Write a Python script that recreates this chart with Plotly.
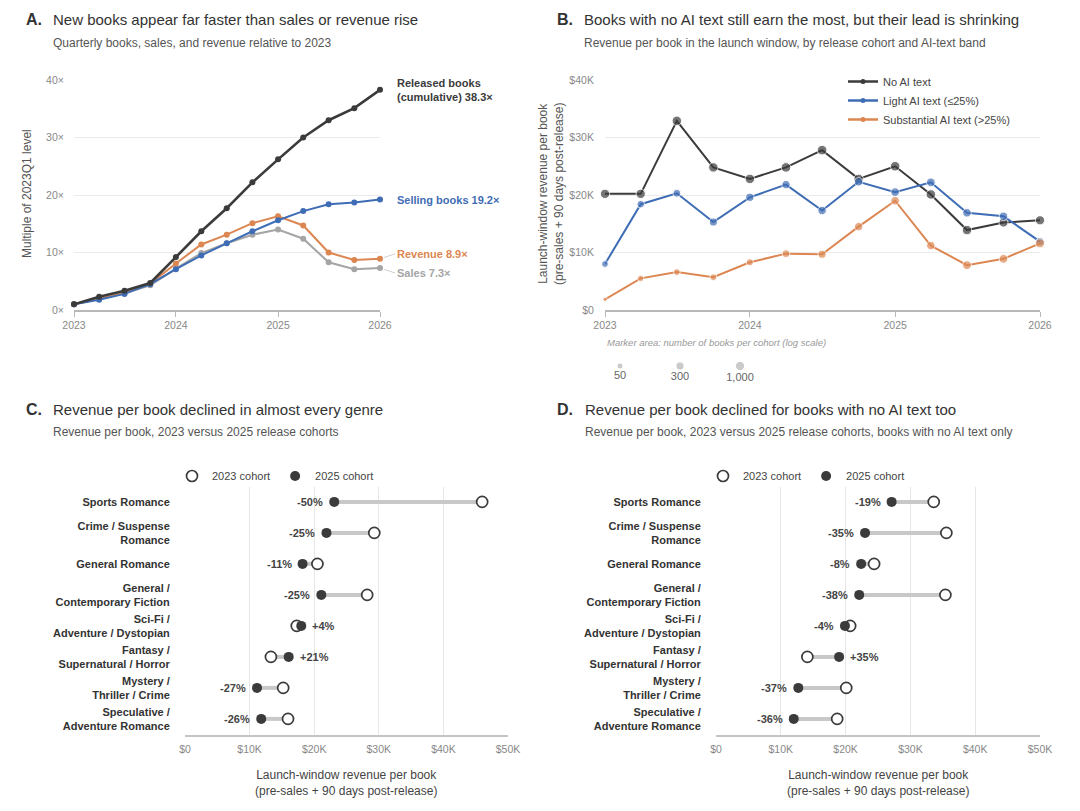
import math

import plotly.graph_objects as go


W, H = 1080, 811
PAGE_OFFSET = 8  # the page body margin shifts the figure by this many px
FONT = "Liberation Sans, Arial, sans-serif"

DARK = "#3b3b3b"
BLUE = "#3f6db5"
ORANGE = "#dc8752"
GREY = "#a5a5a5"
GRID = "#ebebeb"
AXIS = "#b8b8b8"


# Data

quarters = ["2023-01-01", "2023-04-01", "2023-07-01", "2023-10-01",
            "2024-01-01", "2024-04-01", "2024-07-01", "2024-10-01",
            "2025-01-01", "2025-04-01", "2025-07-01", "2025-10-01",
            "2026-01-01"]
years = ["2023-01-01", "2024-01-01", "2025-01-01", "2026-01-01"]
year_labels = ["2023", "2024", "2025", "2026"]

# A: multiple of the 2023Q1 level
released_books = [1.0, 2.3, 3.35, 4.7, 9.2, 13.7, 17.7, 22.2, 26.2, 30.0, 33.0, 35.1, 38.3]
selling_books = [1.0, 1.8, 2.8, 4.5, 7.1, 9.5, 11.6, 13.7, 15.6, 17.2, 18.4, 18.7, 19.2]
revenue_mult = [1.0, 1.9, 3.0, 4.6, 8.1, 11.4, 13.1, 15.1, 16.3, 14.7, 10.0, 8.7, 8.9]
sales_mult = [1.0, 1.9, 2.9, 4.3, 7.2, 9.9, 11.6, 13.1, 14.0, 12.4, 8.3, 7.1, 7.3]
mult_ticks = [0, 10, 20, 30, 40]

# B: launch-window revenue per book, and books per cohort
rev_no_ai = [20200, 20200, 32900, 24800, 22800, 24800, 27800, 22800, 25000, 20100, 13900, 15200, 15600]
rev_light_ai = [8000, 18400, 20300, 15300, 19600, 21800, 17300, 22300, 20500, 22200, 16900, 16300, 11900]
rev_subst_ai = [1850, 5500, 6600, 5700, 8300, 9800, 9700, 14500, 19000, 11200, 7800, 8900, 11600]
n_no_ai = [1100, 1100, 1300, 1300, 1400, 1500, 1600, 1300, 1500, 1400, 1300, 800, 1000]
n_light_ai = [90, 180, 250, 300, 350, 400, 450, 500, 500, 550, 500, 450, 400]
n_subst_ai = [18, 60, 90, 90, 120, 250, 300, 400, 500, 450, 600, 550, 900]
size_legend_n = [50, 300, 1000]
rev_ticks = [0, 10000, 20000, 30000, 40000]

# C and D: revenue per book by genre, 2023 vs 2025 cohorts
genres = ["Sports Romance", "Crime / Suspense<br>Romance", "General Romance",
          "General /<br>Contemporary Fiction", "Sci-Fi /<br>Adventure / Dystopian",
          "Fantasy /<br>Supernatural / Horror", "Mystery /<br>Thriller / Crime",
          "Speculative /<br>Adventure Romance"]
genre_rev_2023 = [46000, 29300, 20500, 28200, 17300, 13300, 15200, 15950]
genre_rev_2025 = [23100, 21900, 18200, 21100, 18000, 16050, 11150, 11800]
noai_rev_2023 = [33600, 35550, 24400, 35400, 20700, 14100, 20100, 18700]
noai_rev_2025 = [27100, 23000, 22400, 22100, 19900, 19000, 12700, 12000]
money_ticks = [0, 10000, 20000, 30000, 40000, 50000]


# Helpers (positions below are in screen px, converted to paper fractions)

def px(x):
    return (x - PAGE_OFFSET) / W

def py(y):
    return 1 - (y - PAGE_OFFSET) / H

def marker_px(n):
    # marker area grows with log10 of the cohort size
    return math.sqrt(max(37.7 * math.log10(n) - 28.0, 9))

def money(v):
    return "$0" if v == 0 else "${}K".format(v // 1000)


fig = go.Figure()
annotations = []


def note(text, x, y, size, color, xanchor="left", angle=0):
    annotations.append(dict(text=text, x=px(x), y=py(y), xref="paper", yref="paper",
                            xanchor=xanchor, yanchor="middle", showarrow=False, textangle=angle,
                            font=dict(size=size, color=color)))


def title_block(letter, lx, tx, y, title, subtitle):
    note("<b>{}</b>".format(letter), lx, y, 16, "#333")
    note(title, tx, y, 15, "#333")
    note(subtitle, tx, y + 23, 12, "#555")


# Panel A

series_a = [
    ("Sales", sales_mult, GREY, 2),
    ("Revenue", revenue_mult, ORANGE, 2),
    ("Selling books", selling_books, BLUE, 2),
    ("Released books", released_books, DARK, 2.6),
]
for name, vals, color, width in series_a:
    fig.add_trace(go.Scatter(x=quarters, y=vals, mode="lines+markers", name=name,
                             line=dict(color=color, width=width),
                             marker=dict(size=6, color=color),
                             xaxis="x", yaxis="y", showlegend=False, cliponaxis=False))

end_labels = [
    ("Released books<br>(cumulative) {:.1f}×".format(released_books[-1]), released_books[-1], DARK, 0),
    ("Selling books {:.1f}×".format(selling_books[-1]), selling_books[-1], BLUE, 0),
    ("Revenue {:.1f}×".format(revenue_mult[-1]), revenue_mult[-1], ORANGE, -5),
    ("Sales {:.1f}×".format(sales_mult[-1]), sales_mult[-1], GREY, 5),
]
for text, val, color, dy in end_labels:
    if dy == 0:
        annotations.append(dict(text="<b>{}</b>".format(text), x=quarters[-1], y=val, xref="x", yref="y",
                                xanchor="left", yanchor="middle", align="left", xshift=15,
                                showarrow=False, font=dict(size=11, color=color)))
    else:
        annotations.append(dict(text="<b>{}</b>".format(text), x=quarters[-1], y=val, xref="x", yref="y",
                                ax=15, ay=dy, xanchor="left", yanchor="middle", align="left",
                                showarrow=True, arrowhead=0, arrowwidth=0.8, arrowcolor="#c4c4c4",
                                standoff=4, font=dict(size=11, color=color)))


# Panel B

series_b = [
    ("No AI text", rev_no_ai, n_no_ai, DARK),
    ("Light AI text (≤25%)", rev_light_ai, n_light_ai, BLUE),
    ("Substantial AI text (>25%)", rev_subst_ai, n_subst_ai, ORANGE),
]
for name, vals, counts, color in series_b:
    fig.add_trace(go.Scatter(x=quarters, y=vals, mode="lines+markers", name=name,
                             line=dict(color=color, width=2),
                             marker=dict(size=[marker_px(n) for n in counts], color=color),
                             xaxis="x2", yaxis="y2", showlegend=False, cliponaxis=False))
for name, vals, counts, color in series_b:
    # legend-only entries with a small fixed marker
    fig.add_trace(go.Scatter(x=[None], y=[None], mode="lines+markers", name=name,
                             line=dict(color=color, width=2.5), marker=dict(size=5, color=color),
                             xaxis="x2", yaxis="y2", legend="legend"))

fig.add_trace(go.Scatter(x=list(range(len(size_legend_n))), y=[0] * len(size_legend_n),
                         mode="markers+text", text=["{:,}".format(n) for n in size_legend_n],
                         textposition="bottom center", textfont=dict(size=11, color="#666"),
                         marker=dict(size=[marker_px(n) for n in size_legend_n], color="#b5b5b5"),
                         xaxis="x5", yaxis="y5", showlegend=False, cliponaxis=False))
note("<i>Marker area: number of books per cohort (log scale)</i>", 605, 343, 9.5, "#999")


# Panels C and D

rows = list(range(len(genres)))


def dumbbell(v23, v25, xa, ya, legend):
    seg_x, seg_y = [], []
    for i, (a, b) in enumerate(zip(v23, v25)):
        seg_x += [a, b, None]
        seg_y += [i, i, None]
    fig.add_trace(go.Scatter(x=seg_x, y=seg_y, mode="lines", line=dict(color="#c8c8c8", width=4),
                             xaxis=xa, yaxis=ya, showlegend=False, hoverinfo="skip"))
    fig.add_trace(go.Scatter(x=v23, y=rows, mode="markers", name="2023 cohort",
                             marker=dict(size=11, color="white", line=dict(color=DARK, width=1.7)),
                             xaxis=xa, yaxis=ya, legend=legend, cliponaxis=False))
    fig.add_trace(go.Scatter(x=v25, y=rows, mode="markers", name="2025 cohort",
                             marker=dict(size=10, color=DARK),
                             xaxis=xa, yaxis=ya, legend=legend, cliponaxis=False))
    for i, (a, b) in enumerate(zip(v23, v25)):
        pct = (b / a - 1) * 100
        if b < a:
            anchor, shift = "right", -9
        else:
            anchor, shift = "left", 9
        annotations.append(dict(text="<b>{:+.0f}%</b>".format(pct), x=b, y=i,
                                xref=xa, yref=ya, xanchor=anchor, yanchor="middle", xshift=shift,
                                showarrow=False, font=dict(size=11, color="#444")))


dumbbell(genre_rev_2023, genre_rev_2025, "x3", "y3", "legend2")
dumbbell(noai_rev_2023, noai_rev_2025, "x4", "y4", "legend3")


# Titles

title_block("A.", 24, 51, 20, "New books appear far faster than sales or revenue rise",
            "Quarterly books, sales, and revenue relative to 2023")
title_block("B.", 555, 582, 20, "Books with no AI text still earn the most, but their lead is shrinking",
            "Revenue per book in the launch window, by release cohort and AI-text band")
title_block("C.", 24, 51, 409, "Revenue per book declined in almost every genre",
            "Revenue per book, 2023 versus 2025 release cohorts")
title_block("D.", 555, 583, 409, "Revenue per book declined for books with no AI text too",
            "Revenue per book, 2023 versus 2025 release cohorts, books with no AI text only")

rev_title = "Launch-window revenue per book<br>(pre-sales + 90 days post-release)"
note("Multiple of 2023Q1 level", 27, 194, 12, "#555", xanchor="center", angle=-90)
note(rev_title, 551, 194, 12, "#555", xanchor="center", angle=-90)
note(rev_title, 346, 783, 12, "#444", xanchor="center")
note(rev_title, 878, 783, 12, "#444", xanchor="center")


# Layout

tick_font = dict(size=10.5, color="#888888")
no_tick = "rgba(0,0,0,0)"

time_x = dict(type="date", range=[quarters[0], quarters[-1]], tickvals=years, ticktext=year_labels,
              showgrid=False, zeroline=False, showline=True, linecolor=AXIS, linewidth=1.5,
              ticks="outside", ticklen=5, tickcolor=AXIS, tickfont=tick_font, automargin=False)

money_x = dict(range=[0, 50000], tickvals=money_ticks, ticktext=[money(v) for v in money_ticks],
               showgrid=True, gridcolor="#e6e6e6", gridwidth=1, zeroline=False, showline=True,
               linecolor="#c4c4c4", linewidth=2, ticks="outside", ticklen=3, tickcolor=no_tick,
               tickfont=tick_font, automargin=False)

genre_y = dict(range=[len(genres) - 0.48, -0.48], tickvals=rows, ticktext=["<b>{}</b>".format(g) for g in genres],
               showgrid=False, zeroline=False, showline=False, ticks="outside", ticklen=12,
               tickcolor=no_tick, tickfont=dict(size=11, color="#333"), automargin=False)

cohort_legend = dict(orientation="h", yanchor="middle", xanchor="left",
                     font=dict(size=11, color="#444"), bgcolor="rgba(0,0,0,0)", itemwidth=30)

fig.update_layout(
    template="none",
    width=W, height=H,
    margin=dict(l=0, r=0, t=0, b=0, autoexpand=False),
    paper_bgcolor="white", plot_bgcolor="white",
    font=dict(family=FONT, color="#444"),
    hovermode=False,
    xaxis=dict(time_x, domain=[px(74), px(380)], anchor="y"),
    yaxis=dict(domain=[py(310), py(80)], anchor="x", range=[0, 40], tickvals=mult_ticks,
               ticktext=["{}×".format(v) for v in mult_ticks], showgrid=True, gridcolor=GRID,
               zeroline=False, showline=False, ticks="outside", ticklen=7, tickcolor=no_tick,
               tickfont=tick_font, automargin=False),
    xaxis2=dict(time_x, domain=[px(605), px(1040)], anchor="y2"),
    yaxis2=dict(domain=[py(310), py(80)], anchor="x2", range=[0, 40000], tickvals=rev_ticks,
                ticktext=[money(v) for v in rev_ticks], showgrid=True, gridcolor=GRID, zeroline=False,
                showline=False, ticks="outside", ticklen=8, tickcolor=no_tick,
                tickfont=tick_font, automargin=False),
    xaxis3=dict(money_x, domain=[px(185), px(508)], anchor="y3"),
    yaxis3=dict(genre_y, domain=[py(735), py(487)], anchor="x3"),
    xaxis4=dict(money_x, domain=[px(716), px(1040)], anchor="y4"),
    yaxis4=dict(genre_y, domain=[py(735), py(487)], anchor="x4"),
    xaxis5=dict(domain=[px(590), px(770)], anchor="y5", range=[-0.5, 2.5], visible=False),
    yaxis5=dict(domain=[py(374), py(358)], anchor="x5", range=[-1, 1], visible=False),
    legend=dict(x=px(843), y=py(67), xanchor="left", yanchor="top", font=dict(size=11, color="#444"),
                bgcolor="rgba(0,0,0,0)", tracegroupgap=0, itemwidth=30),
    legend2=dict(cohort_legend, x=px(172), y=py(476)),
    legend3=dict(cohort_legend, x=px(703), y=py(476)),
    annotations=annotations,
)

fig.write_html("out.html")
